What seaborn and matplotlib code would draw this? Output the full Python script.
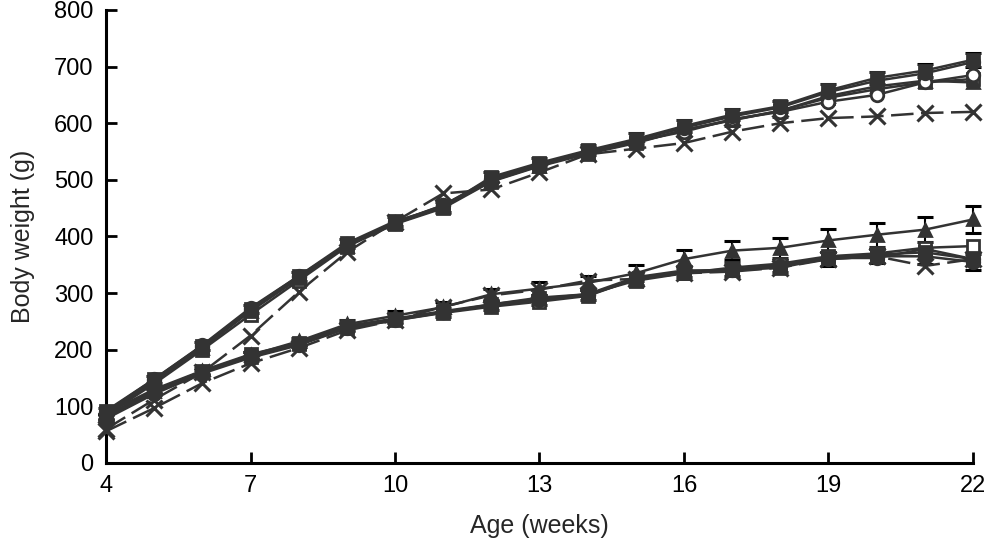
import pandas as pd
import seaborn as sns
import matplotlib.pyplot as plt
import numpy as np

# Age in weeks
weeks = list(range(4, 23))

# Males (upper group)
m_filled_square = [92, 148, 207, 272, 330, 388, 427, 452, 505, 530, 552, 572, 595, 615, 630, 658, 680, 693, 712]
m_filled_circle = [88, 145, 205, 270, 328, 386, 425, 455, 500, 528, 550, 570, 592, 612, 628, 655, 675, 688, 708]
m_open_circle = [90, 148, 208, 274, 330, 385, 424, 455, 502, 527, 548, 568, 585, 607, 620, 638, 650, 672, 685]
m_filled_triangle = [86, 142, 203, 268, 326, 384, 423, 452, 498, 525, 548, 566, 588, 606, 622, 648, 665, 675, 672]
m_open_square = [85, 140, 200, 262, 322, 382, 422, 450, 497, 524, 546, 565, 588, 605, 622, 645, 660, 672, 678]
m_cross = [60, 112, 160, 225, 302, 372, 426, 476, 483, 513, 545, 555, 565, 585, 600, 609, 612, 618, 620]

# Females (lower group)
f_filled_square = [88, 130, 163, 192, 212, 242, 255, 268, 280, 292, 298, 322, 335, 340, 345, 362, 368, 372, 360]
f_filled_circle = [80, 125, 160, 190, 210, 240, 254, 266, 278, 288, 296, 325, 338, 342, 348, 360, 365, 365, 355]
f_filled_triangle = [82, 128, 162, 190, 215, 245, 260, 275, 298, 308, 318, 335, 360, 375, 380, 393, 403, 412, 430]
f_open_square = [84, 127, 160, 188, 210, 238, 252, 265, 276, 285, 295, 325, 335, 345, 352, 365, 370, 380, 383]
f_open_circle = [78, 122, 158, 186, 208, 238, 252, 266, 280, 290, 298, 328, 340, 340, 350, 362, 362, 378, 360]
f_cross = [56, 97, 141, 176, 203, 234, 252, 276, 296, 306, 322, 325, 335, 338, 345, 360, 365, 348, 360]

# standard errors (only drawn where visible)
m_square_se = [5, 6, 7, 7, 8, 8, 8, 8, 9, 9, 9, 10, 10, 10, 10, 11, 11, 12, 12]
f_triangle_se = [4, 5, 5, 6, 6, 7, 8, 9, 10, 11, 12, 14, 16, 17, 18, 20, 21, 22, 24]
f_circle_se = [4, 5, 5, 6, 6, 7, 7, 8, 8, 9, 9, 10, 10, 11, 11, 12, 12, 13, 14]

col = '#333333'

series = [
  ('m_cross', m_cross, 'x', col, (0, (9, 3)), None),
  ('m_open_square', m_open_square, 's', 'white', '-', None),
  ('m_filled_triangle', m_filled_triangle, '^', col, '-', None),
  ('m_open_circle', m_open_circle, 'o', 'white', '-', None),
  ('m_filled_circle', m_filled_circle, 'o', col, '-', None),
  ('m_filled_square', m_filled_square, 's', col, '-', m_square_se),
  ('f_cross', f_cross, 'x', col, (0, (9, 3)), None),
  ('f_open_circle', f_open_circle, 'o', 'white', '-', None),
  ('f_open_square', f_open_square, 's', 'white', '-', None),
  ('f_filled_circle', f_filled_circle, 'o', col, '-', f_circle_se),
  ('f_filled_square', f_filled_square, 's', col, '-', None),
  ('f_filled_triangle', f_filled_triangle, '^', col, '-', f_triangle_se),
]

sns.set_style('ticks')
plt.rcParams['font.family'] = ['Liberation Sans', 'DejaVu Sans']

fig = plt.figure(figsize=(9.87, 5.40), dpi=100)
ax = fig.add_axes([0.1074, 0.1426, 0.8784, 0.839])

for name, vals, mk, face, ls, se in series:
  df = pd.DataFrame({'week': weeks, 'weight': vals})
  if se is not None:
    ax.errorbar(weeks, vals, yerr=se, fmt='none', ecolor='black', elinewidth=1.5,
                capsize=6, capthick=2.2, clip_on=False, zorder=2)
  sns.lineplot(data=df, x='week', y='weight', ax=ax, color=col, linewidth=1.8,
               linestyle=ls, marker=mk, markersize=9 if mk != 'x' else 11,
               markerfacecolor=face if mk != 'x' else col,
               markeredgecolor=col, markeredgewidth=2 if mk != 'x' else 2.2,
               clip_on=False, zorder=3)

ax.set_xlim(4, 22)
ax.set_ylim(0, 800)
ax.set_xticks([4, 7, 10, 13, 16, 19, 22])
ax.set_yticks(range(0, 801, 100))
ax.tick_params(direction='in', length=8, width=2, labelsize=17, colors='black', pad=9)
for s in ['left', 'bottom']:
  ax.spines[s].set_linewidth(2.2)
  ax.spines[s].set_color('black')
sns.despine(ax=ax)

ax.set_xlabel('Age (weeks)', fontsize=18, labelpad=12)
ax.set_ylabel('Body weight (g)', fontsize=18, labelpad=14)

fig.savefig('out.png', dpi=100)
